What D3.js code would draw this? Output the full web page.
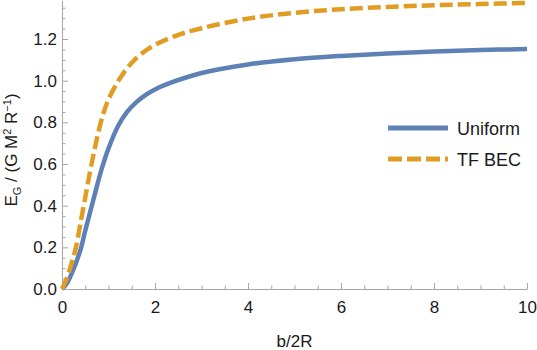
<!DOCTYPE html>
<html>
<head>
<meta charset="utf-8">
<script src="https://cdn.jsdelivr.net/npm/d3@7"></script>
<style>
  body { margin: 0; background: #fff; }
  text { font-family: "Liberation Sans", Arial, sans-serif; }
</style>
</head>
<body>
<div id="chart-area"></div>
<script>
// data
var xs = [0, 0.1, 0.2, 0.3, 0.4, 0.5, 0.6, 0.7, 0.8, 0.9, 1.0, 1.2, 1.4, 1.6, 1.8, 2.0, 2.4, 3.0, 4.0, 5.0, 6.0, 7.0, 8.0, 9.0, 10.0];
var uniform = [0, 0.025, 0.07, 0.125, 0.19, 0.28, 0.365, 0.45, 0.535, 0.61, 0.675, 0.78, 0.85, 0.897, 0.932, 0.958, 0.995, 1.037, 1.078, 1.103, 1.119, 1.131, 1.14, 1.147, 1.152];
var tfBec = [0, 0.05, 0.12, 0.2, 0.32, 0.44, 0.56, 0.67, 0.77, 0.85, 0.91, 0.995, 1.06, 1.108, 1.145, 1.172, 1.212, 1.252, 1.298, 1.326, 1.343, 1.354, 1.362, 1.368, 1.373];
var seriesNames = ["Uniform", "TF BEC"];
var xTicks = [0, 2, 4, 6, 8, 10];
var yTicks = [0, 0.2, 0.4, 0.6, 0.8, 1.0, 1.2];

var width = 537, height = 350;
var blue = "#5e81b5", orange = "#e19c24", axisCol = "#a6a6a6";

var svg = d3.select("#chart-area")
	.append("svg")
	.attr("width", width)
	.attr("height", height);

// Scales
var x = d3.scaleLinear().domain([0, 10]).range([62, 527]);
var y = d3.scaleLinear().domain([0, 1.385]).range([289, 0.5]);

// minor ticks
var xMinor = d3.range(0, 10.01, 0.5).filter(function (d) { return d % 2 !== 0; });
var yMinor = d3.range(0, 1.38, 0.05).filter(function (d) { return Math.abs(d * 5 - Math.round(d * 5)) > 1e-6; });

svg.append("g")
	.attr("transform", "translate(0," + y(0) + ")")
	.call(d3.axisBottom(x).tickValues(xMinor).tickSize(-3.5).tickFormat(""))
	.call(function (g) { g.select(".domain").remove(); });

svg.append("g")
	.attr("transform", "translate(" + x(0) + ",0)")
	.call(d3.axisLeft(y).tickValues(yMinor).tickSize(-3.5).tickFormat(""))
	.call(function (g) { g.select(".domain").remove(); });

// X Axis
svg.append("g")
	.attr("class", "x-axis")
	.attr("transform", "translate(0," + y(0) + ")")
	.call(d3.axisBottom(x).tickValues(xTicks).tickSize(-6).tickSizeOuter(0).tickPadding(12).tickFormat(d3.format("d")));

// Y Axis
svg.append("g")
	.attr("class", "y-axis")
	.attr("transform", "translate(" + x(0) + ",0)")
	.call(d3.axisLeft(y).tickValues(yTicks).tickSize(-6).tickSizeOuter(0).tickPadding(5).tickFormat(d3.format(".1f")));

svg.selectAll(".tick line").attr("stroke", axisCol);
svg.selectAll(".domain").attr("stroke", axisCol);
svg.selectAll(".tick text")
	.attr("fill", "#1a1a1a")
	.style("font-size", "17px");

// Labels
svg.append("text")
	.attr("x", (x(0) + x(10)) / 2)
	.attr("y", 347)
	.attr("text-anchor", "middle")
	.style("font-size", "17px")
	.attr("fill", "#1a1a1a")
	.text("b/2R");

var yl = svg.append("text")
	.attr("transform", "translate(17,150) rotate(-90)")
	.attr("text-anchor", "middle")
	.style("font-size", "17px")
	.attr("fill", "#1a1a1a");
yl.append("tspan").text("E");
yl.append("tspan").attr("dy", 4).style("font-size", "11px").text("G");
yl.append("tspan").attr("dy", -4).text(" / (G M");
yl.append("tspan").attr("dy", -6).style("font-size", "11px").text("2");
yl.append("tspan").attr("dy", 6).text(" R");
yl.append("tspan").attr("dy", -6).style("font-size", "11px").text("\u22121");
yl.append("tspan").attr("dy", 6).text(")");

// Curves
var line = d3.line()
	.x(function (d) { return x(d[0]); })
	.y(function (d) { return y(d[1]); })
	.curve(d3.curveCatmullRom.alpha(0.5));

svg.append("path")
	.datum(xs.map(function (v, i) { return [v, uniform[i]]; }))
	.attr("fill", "none")
	.attr("stroke", blue)
	.attr("stroke-width", 4.5)
	.attr("d", line);

svg.append("path")
	.datum(xs.map(function (v, i) { return [v, tfBec[i]]; }))
	.attr("fill", "none")
	.attr("stroke", orange)
	.attr("stroke-width", 4.5)
	.attr("stroke-dasharray", "13,5")
	.attr("d", line);

// Legend
var legend = svg.append("g").attr("class", "legend");
var legendColors = [blue, orange];
var legendDash = [null, "14,5"];

legend.selectAll("line")
	.data(seriesNames)
	.enter()
	.append("line")
	.attr("x1", 388)
	.attr("x2", 448)
	.attr("y1", function (d, i) { return 128 + i * 31; })
	.attr("y2", function (d, i) { return 128 + i * 31; })
	.attr("stroke", function (d, i) { return legendColors[i]; })
	.attr("stroke-width", 5)
	.attr("stroke-dasharray", function (d, i) { return legendDash[i]; });

legend.selectAll("text")
	.data(seriesNames)
	.enter()
	.append("text")
	.attr("x", 457)
	.attr("y", function (d, i) { return 134.5 + i * 31; })
	.style("font-size", "18px")
	.attr("fill", "#1a1a1a")
	.text(function (d) { return d; });
</script>
</body>
</html>
